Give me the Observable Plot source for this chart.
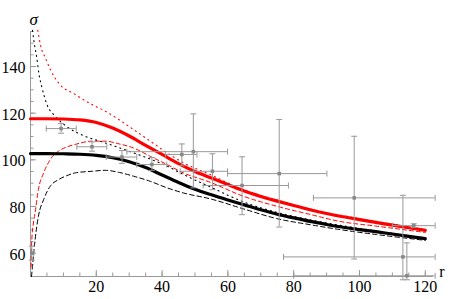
<!DOCTYPE html>
<html><head><meta charset="utf-8">
<script src="https://cdn.jsdelivr.net/npm/d3@7"></script>
<script src="https://cdn.jsdelivr.net/npm/@observablehq/plot@0.6"></script>
<style>body{margin:0;background:#fff;} svg{display:block} svg text, svg g{font-family:"Liberation Serif","Times New Roman","DejaVu Serif",serif !important;}</style>
</head><body><div id="chart"></div>
<script>
// ---- data ----
const xTicksMajor = [20, 40, 60, 80, 100, 120];
const xTicksMinor = [5,10,15,20,25,30,35,40,45,50,55,60,65,70,75,80,85,90,95,100,105,110,115,120];
const yTicksMajor = [60, 80, 100, 120, 140];
const yTicksMinor = [55,60,65,70,75,80,85,90,95,100,105,110,115,120,125,130,135,140,145,150,155];

const blackSolidR = [0,5,10,15,20,25,30,35,40,45,50,55,60,65,70,75,80,85,90,95,100,105,110,115,120];
const blackSolidS = [102.7,102.7,102.6,102.4,101.9,100.9,99.2,96.7,93.5,90.3,87.4,85.0,82.8,80.7,78.6,76.7,75.1,73.6,72.3,71.1,70.1,69.2,68.2,67.2,66.2];

const redSolidR = [0,5,10,15,20,25,30,35,40,45,50,55,60,65,70,75,80,85,90,95,100,105,110,115,120];
const redSolidS = [117.6,117.6,117.5,117.1,116.0,113.6,110.2,106.2,102.3,98.4,95.0,92.2,89.4,86.6,84.3,82.3,80.4,78.6,77.0,75.6,74.4,73.2,72.0,70.9,69.8];

const redDashedR = [0.15,0.4,0.8,1.4,2.4,4,6,8.5,11,13.6,18.7,22.7,27,31.3,36.4,41.5,46.5,54.6,64.7,74.9,85,94.1,105,120];
const redDashedS = [54,65.8,72,77.3,87.3,94.4,100.1,103.7,105.5,106.6,108,108,106.8,105.1,101.5,98,94.4,90.4,84.4,80.1,76.6,73.6,71.6,68.9];

const blackDashedR = [0.3,0.6,1,1.4,2.4,4,6,8.5,11,13.6,18.7,22.7,27,31.3,36.4,41.5,46.5,54.6,64.7,74.9,85,94.1,105,120];
const blackDashedS = [50,54.3,60.5,65.8,75.8,83,88.7,91.5,93.2,94.4,95.1,95.5,94.6,93,90.8,88,85.8,83.3,79,74.8,72.2,70.1,68.0,65.5];

const blackDottedR = [0.6,1.2,1.9,2.6,3.5,5,7.5,11.6,16.6,22,31.3,41.5,46.5,54.6,64.7,74.9,85,100,120];
const blackDottedS = [155.5,149.5,143.8,136.6,130.9,123.7,118.7,113.7,110.1,107.6,103,97.3,93.7,88.4,82,77.5,74.3,70.6,66.5];

const redDottedR = [2.2,3.25,4.5,6,8.5,13.6,18.7,22,31.3,36.4,41.5,46.5,54.6,64.7,74.9,85,100,120];
const redDottedS = [155.5,148,143.8,138.8,133,128,123.7,121.4,113,108,103,98.7,93.7,87.2,82.8,78.9,74.8,70.2];

// measured points with error bars
const ptR   = [0.4, 9.3, 18.7, 27.8, 36.9, 46.0, 49.5, 55.3, 64.3, 75.6, 98.4, 113.2, 114.4, 116.5];
const ptS   = [60, 113.4, 105.6, 101.2, 98.0, 102.3, 103.5, 95.1, 89.0, 94.1, 83.7, 58.4, 50.3, 71.8];
const ptRLo = [0, 4.8, 14.1, 23.0, 32.3, 41.0, 29.3, 45.5, 52.5, 59.9, 86.0, 76.9, 80.0, 110];
const ptRHi = [1.0, 13.9, 23.2, 32.3, 41.4, 50.6, 59.9, 59.9, 78.4, 90.1, 123, 123, 123, 123];
const ptSLo = [57, 111.4, 103.7, 98.5, 95.5, 97.5, 88.0, 87.2, 76.5, 71.2, 57.5, 48.6, 48.6, 71.0];
const ptSHi = [63, 115.6, 107.7, 104.0, 101.0, 106.8, 119.7, 102.6, 101.3, 117.3, 110.1, 84.8, 64.4, 72.6];

// ---- chart ----
const W = 450, H = 299, mL = 30, mR = 17, mT = 31, mB = 23;
const fW = W - mL - mR, fH = H - mT - mB;
const zip = (rs, ss) => rs.map((r, i) => ({r, s: ss[i]}));
const pts = ptR.map((r, i) => ({r, s: ptS[i], rlo: ptRLo[i], rhi: ptRHi[i], slo: ptSLo[i], shi: ptSHi[i]}));

const capH = {draw(ctx) { ctx.moveTo(-3, 0); ctx.lineTo(3, 0); }};
const capV = {draw(ctx) { ctx.moveTo(0, -3); ctx.lineTo(0, 3); }};
const axisGray = "#999";
const errGray = "#999";
const font = "Liberation Serif, Times New Roman, DejaVu Serif, serif";
const tf = {fontFamily: font, fill: "black"};
const crv = "monotone-x";

const chart = Plot.plot({
  width: W, height: H,
  marginLeft: mL, marginRight: mR, marginTop: mT, marginBottom: mB,
  x: {domain: [0, 122.5], axis: null},
  y: {domain: [50, 155], axis: null},
  style: {fontFamily: font, background: "white", overflow: "visible"},
  marks: [
    // axes
    Plot.ruleX(xTicksMinor, {x: d => d, insetTop: fH - 3.5, stroke: axisGray}),
    Plot.ruleX(xTicksMajor, {x: d => d, insetTop: fH - 6, stroke: axisGray}),
    Plot.ruleY(yTicksMinor, {y: d => d, insetRight: fW - 3.5, stroke: axisGray}),
    Plot.ruleY(yTicksMajor, {y: d => d, insetRight: fW - 6, stroke: axisGray}),
    Plot.ruleY([50], {stroke: axisGray}),
    Plot.ruleX([0], {stroke: axisGray}),
    Plot.text(xTicksMajor, {x: d => d, frameAnchor: "bottom", dy: 15, fontSize: 16, ...tf}),
    Plot.text(yTicksMajor, {y: d => d, frameAnchor: "left", dx: -5, dy: 1.5, textAnchor: "end", fontSize: 16, ...tf}),
    Plot.text(["σ"], {frameAnchor: "top-left", dx: -1, dy: -19, fontSize: 17, fontStyle: "italic", ...tf}),
    Plot.text(["r"], {frameAnchor: "bottom-right", dx: 11, dy: 0, fontSize: 16, ...tf}),
    // thin curves
    Plot.line(zip(blackDashedR, blackDashedS), {x: "r", y: "s", stroke: "black", strokeWidth: 1, strokeDasharray: "4.5,3", curve: crv}),
    Plot.line(zip(redDashedR, redDashedS), {x: "r", y: "s", stroke: "red", strokeWidth: 1, strokeDasharray: "4,3", curve: crv}),
    Plot.line(zip(blackDottedR, blackDottedS), {x: "r", y: "s", stroke: "black", strokeWidth: 1.1, strokeDasharray: "1.1,4", curve: crv}),
    Plot.line(zip(redDottedR, redDottedS), {x: "r", y: "s", stroke: "red", strokeWidth: 1.1, strokeDasharray: "1.1,4", curve: crv}),
    // thick curves
    Plot.line(zip(blackSolidR, blackSolidS), {x: "r", y: "s", stroke: "black", strokeWidth: 3.2, curve: crv}),
    Plot.line(zip(redSolidR, redSolidS), {x: "r", y: "s", stroke: "red", strokeWidth: 3.2, curve: crv}),
    // error bars
    Plot.ruleY(pts, {y: "s", x1: "rlo", x2: "rhi", stroke: errGray, strokeWidth: 1}),
    Plot.ruleX(pts, {x: "r", y1: "slo", y2: "shi", stroke: errGray, strokeWidth: 1}),
    Plot.dot(pts, {x: "r", y: "shi", symbol: capH, stroke: errGray, fill: "none", strokeWidth: 1}),
    Plot.dot(pts, {x: "r", y: "slo", symbol: capH, stroke: errGray, fill: "none", strokeWidth: 1}),
    Plot.dot(pts, {x: "rlo", y: "s", symbol: capV, stroke: errGray, fill: "none", strokeWidth: 1}),
    Plot.dot(pts, {x: "rhi", y: "s", symbol: capV, stroke: errGray, fill: "none", strokeWidth: 1}),
    Plot.dot(pts, {x: "r", y: "s", symbol: "square", r: 2, fill: "#888", stroke: "none"})
  ]
});
chart.setAttribute("font-family", font);
document.getElementById("chart").appendChild(chart);
</script>
</body></html>
